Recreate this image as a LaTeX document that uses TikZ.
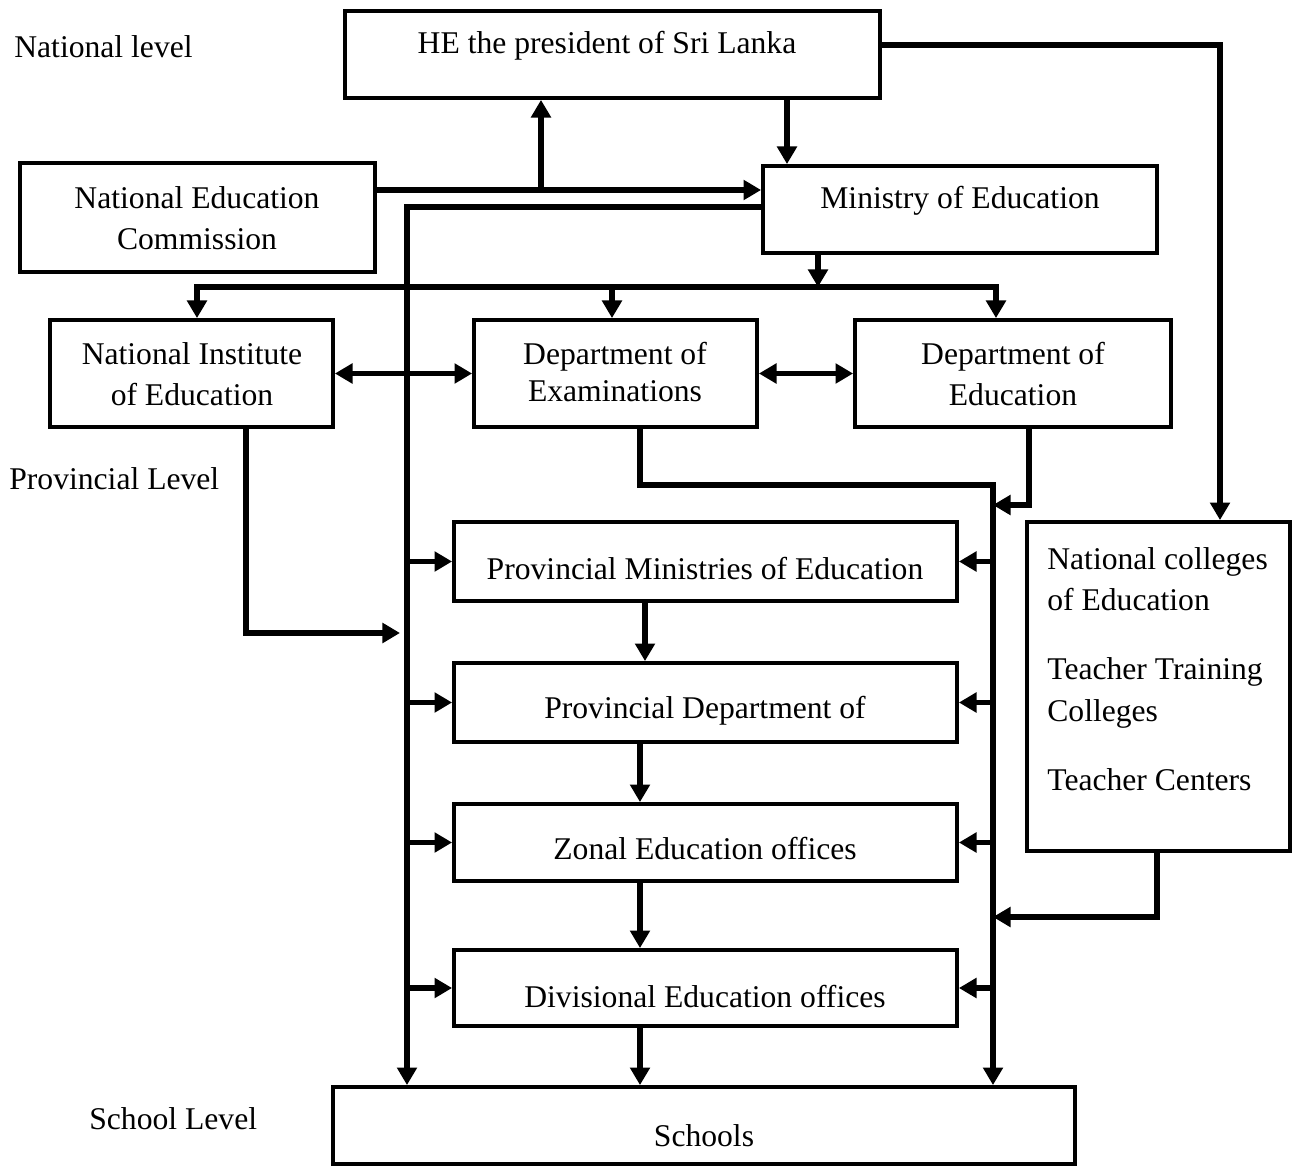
\documentclass[tikz,border=0pt]{standalone}
\usepackage{fontspec}
\setmainfont{Liberation Serif}
\usetikzlibrary{arrows.meta,fit}
\begin{document}
\begin{tikzpicture}[x=0.02cm,y=-0.02cm,
  box/.style={draw, line width=2.2pt, inner sep=0pt},
  txt/.style={font=\fontsize{18}{23.5}\selectfont, inner sep=0pt, align=center},
  conn/.style={line width=3pt, line join=miter},
  arr/.style={conn, -{Triangle[length=10pt,width=11pt]}},
  darr/.style={conn, {Triangle[length=10pt,width=11pt]}-{Triangle[length=10pt,width=11pt]}}]
\useasboundingbox (0,0) rectangle (1292,1166);
% boxes
\node[box, fit={(345,11) (880,98)}] (pres) {};
\node[box, fit={(20,163) (375,272)}] (nec) {};
\node[box, fit={(763,166) (1157,253)}] (moe) {};
\node[box, fit={(50,320) (333,427)}] (nie) {};
\node[box, fit={(474,320) (757,427)}] (exam) {};
\node[box, fit={(855,320) (1171,427)}] (edu) {};
\node[box, fit={(1027,522) (1290,851)}] (nce) {};
\node[box, fit={(454,522) (957,601)}] (pm) {};
\node[box, fit={(454,663) (957,742)}] (pd) {};
\node[box, fit={(454,804) (957,881)}] (zo) {};
\node[box, fit={(454,950) (957,1026)}] (dv) {};
\node[box, fit={(333,1087) (1075,1164)}] (sch) {};
% texts
\node[txt] (tpres) at (607,46) {HE the president of Sri Lanka};
\node[txt] (tnec) at (197,218) {National Education\\Commission};
\node[txt] (tmoe) at (960,201) {Ministry of Education};
\node[txt] (tnie) at (192,374) {National Institute\\of Education};
\node[txt, font=\fontsize{18}{21.5}\selectfont] (texam) at (615,372) {Department of\\Examinations};
\node[txt] (tedu) at (1013,374) {Department of\\Education};
\node[txt, align=left, anchor=west] (tnce) at (1047,669) {National colleges\\of Education\\[16pt]Teacher Training\\Colleges\\[16pt]Teacher Centers};
\node[txt] (tpm) at (705,569) {Provincial Ministries of Education};
\node[txt] (tpd) at (705,711) {Provincial Department of};
\node[txt] (tzo) at (705,849) {Zonal Education offices};
\node[txt] (tdv) at (705,997) {Divisional Education offices};
\node[txt] (tsch) at (704,1136) {Schools};
\node[txt, anchor=west] (lnat) at (14,47) {National level};
\node[txt, anchor=west] (lprov) at (9,479) {Provincial Level};
\node[txt, anchor=west] (lsch) at (89,1119) {School Level};
% coordinates
\coordinate (j1) at (541,190);
\coordinate (lb) at (407,207);
\coordinate (nb) at (246,633);
\coordinate (bus) at (818,287);
\coordinate (rb) at (993,485);
\coordinate (eb) at (1029,505);
\coordinate (pr) at (1220,45);
\coordinate (nb2) at (1157,917);
% connectors
\draw[arr] (nec.east |- j1) -- (moe.west |- j1);
\draw[arr] (j1) -- (pres.south -| j1);
\draw[arr] (pres.south -| 787,0) -- (moe.north -| 787,0);
\draw[arr] (moe.west |- lb) -- (lb) -- (sch.north -| lb);
\foreach \b in {pm,pd,zo,dv} \draw[arr] (\b.west -| lb) -- (\b.west);
\draw[arr] (nie.south -| nb) -- (nb) -- (400,633);
\draw[arr] (moe.south -| bus) -- (bus);
\draw[arr] (612,287) -- (197,287) -- (nie.north -| 197,0);
\draw[arr] (612,287) -- (996,287) -- (edu.north -| 996,0);
\draw[arr] (612,287) -- (exam.north -| 612,0);
\draw[darr] (nie.east) -- (exam.west);
\draw[darr] (exam.east) -- (edu.west);
\draw[arr] (exam.south -| 640,0) -- (640,485) -- (rb) -- (sch.north -| rb);
\foreach \b in {pm,pd,zo,dv} \draw[arr] (\b.east -| rb) -- (\b.east);
\draw[arr] (edu.south -| eb) -- (eb) -- (rb |- eb);
\draw[arr] (pres.east |- pr) -- (pr) -- (nce.north -| pr);
\draw[arr] (nce.south -| nb2) -- (nb2) -- (rb |- nb2);
\draw[arr] (pm.south -| 645,0) -- (pd.north -| 645,0);
\draw[arr] (pd.south -| 640,0) -- (zo.north -| 640,0);
\draw[arr] (zo.south -| 640,0) -- (dv.north -| 640,0);
\draw[arr] (dv.south -| 640,0) -- (sch.north -| 640,0);
\end{tikzpicture}
\end{document}
